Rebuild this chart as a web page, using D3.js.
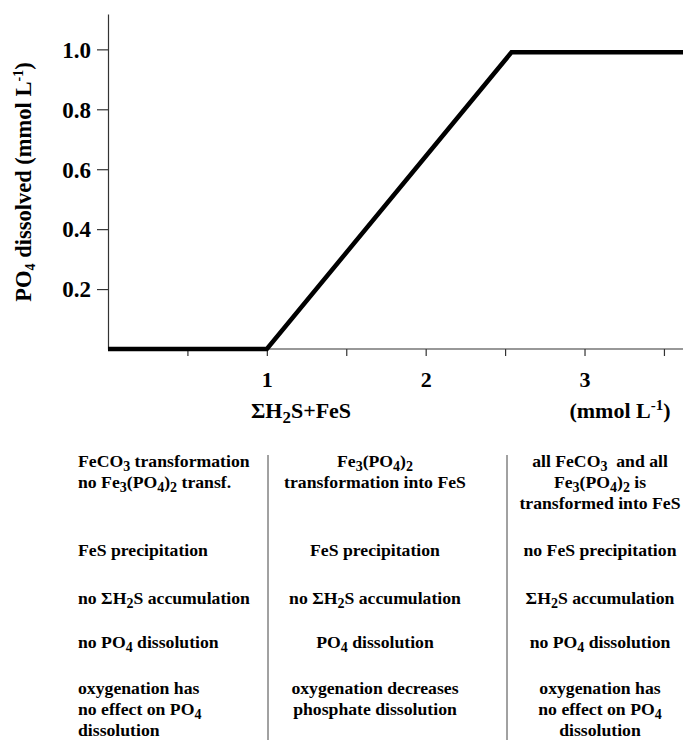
<!DOCTYPE html>
<html>
<head>
<meta charset="utf-8">
<script src="https://cdn.jsdelivr.net/npm/d3@7"></script>
<style>
  body { margin: 0; background: #fff; }
  svg { font-family: "Liberation Serif", "Times New Roman", serif; font-weight: bold; }
</style>
</head>
<body>
<div id="mount"></div>
<script>
// curve: dissolved PO4 vs sum of H2S+FeS
var curveX = [0, 1, 2.54, 3.62];
var curveY = [0, 0, 0.99, 0.99];

var xTicks = [0.5, 1, 1.5, 2, 2.5, 3, 3.5];
var xTickLabels = { 1: '1', 2: '2', 3: '3' };
var yTicks = [0.2, 0.4, 0.6, 0.8, 1.0];

// table under the chart, one list of cells per column (markup: _{sub} ^{sup})
var col1 = [
  ['FeCO_{3} transformation', 'no Fe_{3}(PO_{4})_{2} transf.'],
  ['FeS precipitation'],
  ['no ΣH_{2}S accumulation'],
  ['no PO_{4} dissolution'],
  ['oxygenation has', 'no effect on PO_{4}', 'dissolution']
];
var col2 = [
  ['Fe_{3}(PO_{4})_{2}', 'transformation into FeS'],
  ['FeS precipitation'],
  ['no ΣH_{2}S accumulation'],
  ['PO_{4} dissolution'],
  ['oxygenation decreases', 'phosphate dissolution']
];
var col3 = [
  ['all FeCO_{3}\u00a0 and all', 'Fe_{3}(PO_{4})_{2} is', 'transformed into FeS'],
  ['no FeS precipitation'],
  ['ΣH_{2}S accumulation'],
  ['no PO_{4} dissolution'],
  ['oxygenation has', 'no effect on PO_{4}', 'dissolution']
];

var width = 683, height = 740;

var svg = d3.select('#mount').append('svg')
    .attr('width', width)
    .attr('height', height);

var x = d3.scaleLinear().domain([0, 3.62]).range([108, 683]);
var y = d3.scaleLinear().domain([0, 1.118]).range([349, 14]);

// writes a string with _{..} and ^{..} pieces as tspans
function rich(textSel, str, subSize) {
  var re = /([_^])\{([^}]*)\}/g, last = 0, m, shift = 0;
  function put(s, kind) {
    if (!s) return;
    var t = textSel.append('tspan').text(s);
    var want = kind === '_' ? subSize[1] : kind === '^' ? -subSize[2] : 0;
    if (want !== shift) { t.attr('dy', want - shift); shift = want; }
    if (kind) t.style('font-size', subSize[0]);
  }
  while ((m = re.exec(str)) !== null) {
    put(str.slice(last, m.index), null);
    put(m[2], m[1]);
    last = re.lastIndex;
  }
  put(str.slice(last), null);
}

// axes
var xAxis = d3.axisBottom(x).tickValues(xTicks).tickSize(7).tickSizeOuter(0)
    .tickFormat(function(d) { return xTickLabels[d] || ''; });
var yAxis = d3.axisLeft(y).tickValues(yTicks).tickSize(11).tickSizeOuter(0)
    .tickFormat(d3.format('.1f'));

var gx = svg.append('g')
    .attr('transform', 'translate(0,' + y(0) + ')')
    .call(xAxis);
gx.select('.domain').attr('d', 'M' + x(0) + ',0H' + width);
gx.selectAll('.tick text').filter(function(d) { return !xTickLabels[d]; }).remove();
gx.selectAll('text')
    .attr('y', 22)
    .style('font-size', '22px')
    .style('font-family', 'Liberation Serif')
    .style('font-weight', 'bold')
    .attr('fill', '#000');

var gy = svg.append('g')
    .attr('transform', 'translate(' + x(0) + ',0)')
    .call(yAxis);
gy.selectAll('text')
    .attr('x', -17)
    .attr('dy', '0.34em')
    .style('font-size', '23px')
    .style('font-family', 'Liberation Serif')
    .style('font-weight', 'bold')
    .attr('fill', '#000');
svg.selectAll('.domain, .tick line').attr('stroke', '#333').attr('stroke-width', 1.2);

// the curve
var line = d3.line()
    .x(function(d) { return x(d[0]); })
    .y(function(d) { return y(d[1]); });
svg.append('path')
    .datum(d3.zip(curveX, curveY))
    .attr('d', line)
    .attr('fill', 'none')
    .attr('stroke', '#000')
    .attr('stroke-width', 4.5)
    .attr('stroke-linejoin', 'miter');

// axis titles
var yt = svg.append('text')
    .attr('transform', 'translate(31,182) rotate(-90)')
    .attr('text-anchor', 'middle')
    .style('font-size', '22.5px');
rich(yt, 'PO_{4} dissolved (mmol L^{-1})', ['14px', 4, 8]);

var xt = svg.append('text')
    .attr('x', 301).attr('y', 418)
    .attr('text-anchor', 'middle')
    .style('font-size', '22px');
rich(xt, 'ΣH_{2}S+FeS', ['17px', 5, 8]);

var xu = svg.append('text')
    .attr('x', 620).attr('y', 418)
    .attr('text-anchor', 'middle')
    .style('font-size', '22px');
rich(xu, '(mmol L^{-1})', ['15px', 5, 8]);

// table
var rowTop = [467, 556, 604, 648, 694];
var lineGap = 21;
var cols = [
  { cells: col1, x: 78, anchor: 'start' },
  { cells: col2, x: 375, anchor: 'middle' },
  { cells: col3, x: 600, anchor: 'middle' }
];
cols.forEach(function(c) {
  c.cells.forEach(function(lines, r) {
    lines.forEach(function(s, i) {
      var t = svg.append('text')
          .attr('x', c.x)
          .attr('y', rowTop[r] + i * lineGap)
          .attr('text-anchor', c.anchor)
          .style('font-size', '17.7px');
      rich(t, s, ['14px', 4, 7]);
    });
  });
});

[268, 507].forEach(function(px) {
  svg.append('line')
      .attr('x1', px).attr('x2', px)
      .attr('y1', 455).attr('y2', 740)
      .attr('stroke', '#444')
      .attr('stroke-width', 1);
});
</script>
</body>
</html>
